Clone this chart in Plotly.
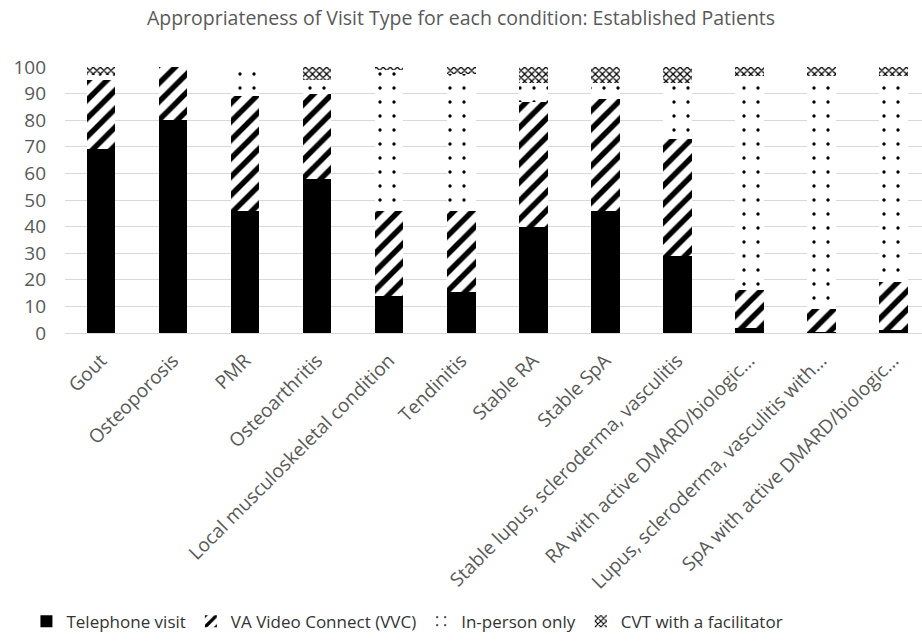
import plotly.graph_objects as go

conditions = [
    "Gout", "Osteoporosis", "PMR", "Osteoarthritis",
    "Local musculoskeletal condition", "Tendinitis", "Stable RA", "Stable SpA",
    "Stable lupus, scleroderma, vasculitis", "RA with active DMARD/biologic...",
    "Lupus, scleroderma, vasculitis with...", "SpA with active DMARD/biologic...",
]
telephone = [69, 80, 46, 58, 14, 15.5, 40, 46, 29, 2, 0.5, 1]
vvc = [26, 20, 43, 32, 32, 30.5, 47, 42, 44, 14, 8.5, 18]
in_person = [2, 0, 11, 5, 53, 51.5, 7, 6, 21, 80.5, 87.5, 77.5]
cvt = [3, 0, 0, 5, 1, 2.5, 6, 6, 6, 3.5, 3.5, 3.5]
y_ticks = [0, 10, 20, 30, 40, 50, 60, 70, 80, 90, 100]

GREY = "#595959"
FONT = "Open Sans"

series = [
    ("Telephone visit", telephone, dict(color="black")),
    ("VA Video Connect (VVC)", vvc,
     dict(color="white", pattern=dict(shape="/", fgcolor="black", bgcolor="white",
                                       size=13, solidity=0.42, fillmode="replace"))),
    ("In-person only", in_person,
     dict(color="white", pattern=dict(shape=".", fgcolor="black", bgcolor="white",
                                       size=14, solidity=0.045, fillmode="replace"))),
    ("CVT with a facilitator", cvt,
     dict(color="white", pattern=dict(shape="x", fgcolor="black", bgcolor="white",
                                       size=5, solidity=0.45, fillmode="replace"))),
]

fig = go.Figure()
for name, vals, marker in series:
    fig.add_trace(go.Bar(
        x=list(range(len(conditions))), y=vals, name=name,
        marker=dict(line=dict(width=0), **marker), width=0.4,
    ))

fig.update_layout(
    barmode="stack",
    width=922, height=642,
    margin=dict(l=65, r=0, t=67, b=309),
    paper_bgcolor="white", plot_bgcolor="white",
    font=dict(family=FONT, color=GREY, size=17),
    title=dict(text="Appropriateness of Visit Type for each condition: Established Patients",
               x=0.5, xanchor="center", y=0.972, yanchor="middle",
               font=dict(family=FONT, size=19.5, color=GREY)),
    showlegend=True,
    legend=dict(orientation="h", x=-0.045, xanchor="left", y=-1.085, yanchor="middle",
                font=dict(family=FONT, size=17, color="#333333"),
                itemwidth=30, traceorder="normal"),
    bargap=0.6,
)
fig.update_xaxes(
    tickmode="array", tickvals=list(range(len(conditions))), ticktext=conditions,
    tickangle=-45, range=[-0.5, 11.4], showgrid=False, zeroline=False,
    showline=True, linecolor="#d9d9d9", linewidth=1, ticks="", ticklabelstandoff=8,
    tickfont=dict(family=FONT, size=19, color=GREY),
)
fig.update_yaxes(
    range=[0, 100], tickvals=y_ticks, showgrid=True, gridcolor="#d9d9d9", gridwidth=1,
    zeroline=False, showline=False, ticks="", ticklabelstandoff=18,
    tickfont=dict(family=FONT, size=19, color=GREY),
)

fig.write_html("out.html")
